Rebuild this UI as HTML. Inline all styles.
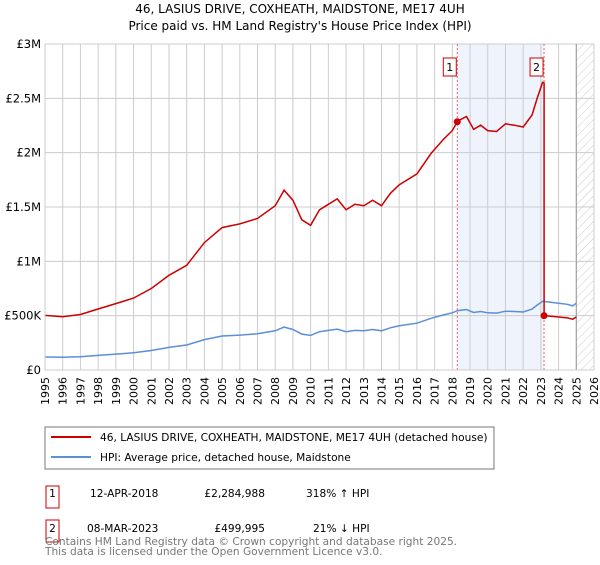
<!DOCTYPE html>
<html><head><meta charset="utf-8"><style>
body{margin:0;background:#fff;font-family:"Liberation Sans","DejaVu Sans",sans-serif}
svg text{font-family:"DejaVu Sans","Liberation Sans",sans-serif}
</style></head><body>
<svg id="c" width="600" height="560" xmlns="http://www.w3.org/2000/svg">
<defs><pattern id="hatch" width="6" height="6" patternUnits="userSpaceOnUse" patternTransform="rotate(45)"><line x1="0" y1="0" x2="0" y2="6" stroke="#ccc" stroke-width="1"/></pattern></defs>
<text x="300" y="13" text-anchor="middle" font-size="12">46, LASIUS DRIVE, COXHEATH, MAIDSTONE, ME17 4UH</text>
<text x="300" y="30" text-anchor="middle" font-size="12">Price paid vs. HM Land Registry's House Price Index (HPI)</text>
<g id="grid"></g><g id="marks"></g><g id="axes"></g>
<rect x="45" y="427" width="449" height="42" fill="#fff" stroke="#777"/>
<line x1="51" y1="437" x2="91" y2="437" stroke="#cc0000" stroke-width="2"/>
<text x="100" y="441" font-size="10.6">46, LASIUS DRIVE, COXHEATH, MAIDSTONE, ME17 4UH (detached house)</text>
<line x1="51" y1="457" x2="91" y2="457" stroke="#5b8fd6" stroke-width="2"/>
<text x="100" y="461" font-size="10.6">HPI: Average price, detached house, Maidstone</text>
<rect x="46" y="486" width="13" height="22" fill="#fff" stroke="#cc0000"/>
<text x="52.5" y="497" text-anchor="middle" font-size="10.6">1</text>
<text x="90" y="497" font-size="10.6">12-APR-2018</text>
<text x="265" y="497" text-anchor="end" font-size="10.6">£2,284,988</text>
<text x="306" y="497" font-size="10.6">318% ↑ HPI</text>
<rect x="46" y="520" width="13" height="22" fill="#fff" stroke="#cc0000"/>
<text x="52.5" y="532" text-anchor="middle" font-size="10.6">2</text>
<text x="87" y="532" font-size="10.6">08-MAR-2023</text>
<text x="265" y="532" text-anchor="end" font-size="10.6">£499,995</text>
<text x="313" y="532" font-size="10.6">21% ↓ HPI</text>
<text x="45" y="545" font-size="10.6" fill="#777">Contains HM Land Registry data © Crown copyright and database right 2025.</text>
<text x="45" y="555" font-size="10.6" fill="#777">This data is licensed under the Open Government Licence v3.0.</text>
</svg>
<script>
const hpiYears=[1995,1996,1997,1998,1999,2000,2001,2002,2003,2004,2005,2006,2007,2008,2008.5,2009,2009.5,2010,2010.5,2011,2011.5,2012,2012.5,2013,2013.5,2014,2014.5,2015,2016,2016.8,2017.5,2018,2018.3,2018.8,2019.2,2019.6,2020,2020.5,2021,2021.5,2022,2022.5,2022.8,2023.1,2023.5,2024,2024.5,2024.8,2025];
const hpiValues=[120,117,122,134,146,158,179,208,230,280,313,321,333,361,395,373,330,318,352,364,376,352,364,361,373,361,388,407,431,476,507,526,547,557,529,538,526,524,541,538,534,560,598,632,625,615,605,590,615];
const saleYears=[2018.28,2023.18];
const salePrices=[2284988,499995];
const saleLabels=["1","2"];
const yTicks=[0,500000,1000000,1500000,2000000,2500000,3000000];
const yTickLabels=["£0","£500K","£1M","£1.5M","£2M","£2.5M","£3M"];
const xTicks=[1995,1996,1997,1998,1999,2000,2001,2002,2003,2004,2005,2006,2007,2008,2009,2010,2011,2012,2013,2014,2015,2016,2017,2018,2019,2020,2021,2022,2023,2024,2025,2026];

const NS="http://www.w3.org/2000/svg";
const L=45,R=594,T=44,B=370;
const X=y=>L+(y-1995)*(R-L)/31;
const Y=v=>B-v*(B-T)/3000000;
function mk(parent,tag,attrs){const e=document.createElementNS(NS,tag);for(const k in attrs)e.setAttribute(k,attrs[k]);document.getElementById(parent).appendChild(e);return e;}
function interp(y){for(let i=0;i<hpiYears.length-1;i++){if(y<=hpiYears[i+1]){const t=(y-hpiYears[i])/(hpiYears[i+1]-hpiYears[i]);return hpiValues[i]+t*(hpiValues[i+1]-hpiValues[i]);}}return hpiValues[hpiValues.length-1];}

let e=mk('grid','rect',{x:X(saleYears[0]),y:T,width:X(saleYears[1])-X(saleYears[0]),height:B-T,fill:'#eef3fc'});

e=mk('grid','rect',{x:X(2025),y:T,width:R-X(2025),height:B-T,fill:'url(#hatch)'});

xTicks.forEach(t=>{const g=mk('grid','line',{x1:X(t),x2:X(t),y1:T,y2:B,stroke:'#ccc'});

const tx=mk('axes','text',{x:0,y:0,'font-size':11,'text-anchor':'end',transform:`translate(${X(t)+4},${B+7}) rotate(-90)`});tx.textContent=t;
});
yTicks.forEach((t,i)=>{const g=mk('grid','line',{x1:L,x2:R,y1:Y(t),y2:Y(t),stroke:'#ccc'});

const tx=mk('axes','text',{x:L-4,y:Y(t)+4,'font-size':11.5,'text-anchor':'end'});tx.textContent=yTickLabels[i];
});
e=mk('grid','line',{x1:X(2025),x2:X(2025),y1:T,y2:B,stroke:'#999',"stroke-width":1});

e=mk('axes','path',{d:`M${L},${T}V${B}H${R}`,fill:'none',stroke:'#ccc'});


saleYears.forEach((s,i)=>{const v=mk('grid','line',{x1:X(s),x2:X(s),y1:T,y2:B,stroke:'#e66','stroke-dasharray':'2,2'});
});

let d='';hpiYears.forEach((y,i)=>{d+=(i?'L':'M')+X(y).toFixed(1)+','+Y(hpiValues[i]*1000).toFixed(1);});
e=mk('marks','path',{d,fill:'none',stroke:'#5b8fd6','stroke-width':1.5});

const r0=salePrices[0]/(interp(saleYears[0])*1000), r1=salePrices[1]/(interp(saleYears[1])*1000);
let pts=[];hpiYears.forEach((y,i)=>{if(y<saleYears[1])pts.push([y,hpiValues[i]*1000*r0]);});
pts.push([saleYears[1],interp(saleYears[1])*1000*r0]);
pts.push([saleYears[1],salePrices[1]]);
hpiYears.forEach((y,i)=>{if(y>saleYears[1])pts.push([y,hpiValues[i]*1000*r1]);});
d='';pts.forEach((p,i)=>{d+=(i?'L':'M')+X(p[0]).toFixed(1)+','+Y(p[1]).toFixed(1);});
e=mk('marks','path',{d,fill:'none',stroke:'#cc0000','stroke-width':1.5});


saleYears.forEach((s,i)=>{const c=mk('marks','circle',{cx:X(s),cy:Y(salePrices[i]),r:3.5,fill:'#cc0000'});

const bx=mk('marks','rect',{x:X(s)-14,y:58,width:13,height:18,fill:'#fff',stroke:'#cc0000'});

const t=mk('marks','text',{x:X(s)-7.5,y:71,'font-size':11,'text-anchor':'middle'});t.textContent=saleLabels[i];
});
</script>
</body></html>
